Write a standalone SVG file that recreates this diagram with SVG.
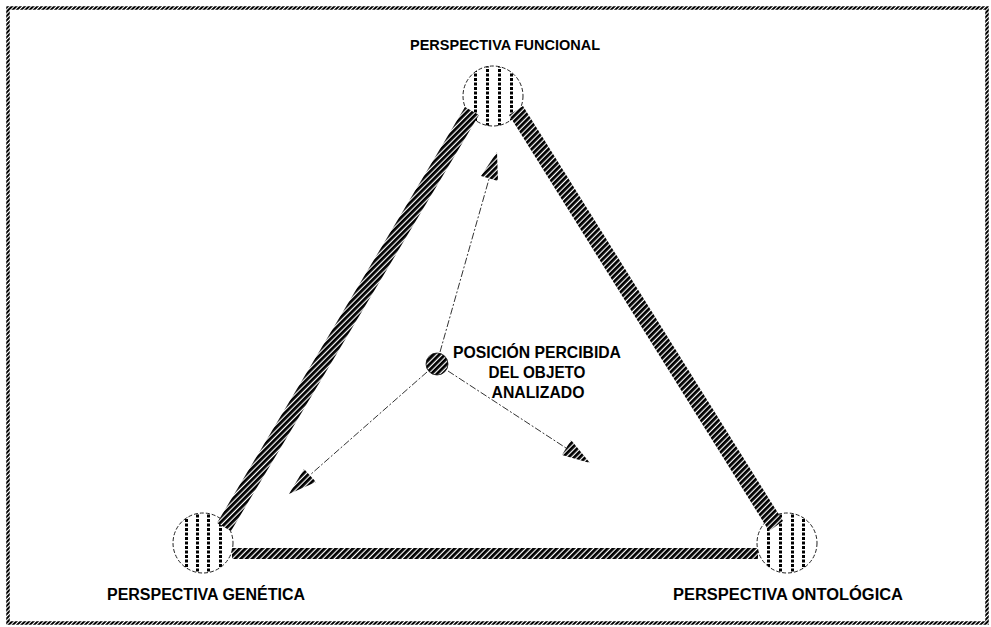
<svg xmlns="http://www.w3.org/2000/svg" width="991" height="627" viewBox="0 0 991 627">
<style>
.lbl{font-family:"Liberation Sans",Arial,sans-serif;font-weight:bold;fill:#000;}
.node-c{fill:#fff;stroke:#222;stroke-width:1;stroke-dasharray:4 2;}
.stripe{stroke:#000;stroke-width:3;stroke-dasharray:3 1.5;}
.band{fill:url(#hatch);}
.conn{stroke:#333;stroke-width:1;stroke-dasharray:7 2 2 2;fill:none;}
</style>
<defs>
<pattern id="hatch" width="4" height="4" patternUnits="userSpaceOnUse" patternTransform="rotate(45)">
<rect width="4" height="4" fill="#fff"/>
<rect width="2.8" height="4" fill="#000"/>
</pattern>
<pattern id="hatchB" width="3" height="3" patternUnits="userSpaceOnUse" patternTransform="rotate(45)">
<rect width="3" height="3" fill="#fff"/>
<rect width="2" height="3" fill="#000"/>
</pattern>
<clipPath id="cTop"><circle cx="493" cy="96" r="30"/></clipPath>
<clipPath id="cLeft"><circle cx="203" cy="543" r="30"/></clipPath>
<clipPath id="cRight"><circle cx="787" cy="543" r="30"/></clipPath>
</defs>
<rect width="991" height="627" fill="#fff"/>
<rect x="8" y="8" width="979" height="615" fill="none" stroke="url(#hatchB)" stroke-width="3.5"/>

<g id="node-funcional">
<circle class="node-c" cx="493" cy="96" r="30"/>
<g clip-path="url(#cTop)">
<line class="stripe" x1="475.5" y1="60" x2="475.5" y2="130"/>
<line class="stripe" x1="487.5" y1="60" x2="487.5" y2="130"/>
<line class="stripe" x1="499.5" y1="60" x2="499.5" y2="130"/>
<line class="stripe" x1="511.5" y1="60" x2="511.5" y2="130"/>
</g>
<text class="lbl" x="410" y="50" font-size="15.5" textLength="190" lengthAdjust="spacingAndGlyphs">PERSPECTIVA FUNCIONAL</text>
</g>

<g id="node-genetica">
<circle class="node-c" cx="203" cy="543" r="30"/>
<g clip-path="url(#cLeft)">
<line class="stripe" x1="186.5" y1="510" x2="186.5" y2="580"/>
<line class="stripe" x1="197.5" y1="510" x2="197.5" y2="580"/>
<line class="stripe" x1="208.5" y1="510" x2="208.5" y2="580"/>
<line class="stripe" x1="220.5" y1="510" x2="220.5" y2="580"/>
</g>
<text class="lbl" x="107" y="600" font-size="16" textLength="198" lengthAdjust="spacingAndGlyphs">PERSPECTIVA GENÉTICA</text>
</g>

<g id="node-ontologica">
<circle class="node-c" cx="787" cy="543" r="30"/>
<g clip-path="url(#cRight)">
<line class="stripe" x1="768.5" y1="510" x2="768.5" y2="580"/>
<line class="stripe" x1="780.5" y1="510" x2="780.5" y2="580"/>
<line class="stripe" x1="792.5" y1="510" x2="792.5" y2="580"/>
<line class="stripe" x1="803.5" y1="510" x2="803.5" y2="580"/>
</g>
<text class="lbl" x="673" y="600" font-size="16" textLength="230" lengthAdjust="spacingAndGlyphs">PERSPECTIVA ONTOLÓGICA</text>
</g>

<g id="connectors">
<polygon class="band" points="465,107 479,115 231,531 217,523"/>
<polygon class="band" points="509,115 523,106 783,521 769,531"/>
<polygon class="band" points="232,548 758,548 758,559 232,559"/>
<line class="conn" x1="440" y1="352" x2="489" y2="179"/>
<polygon class="band" points="497,152 498,181 481,176"/>
<line class="conn" x1="427" y1="372" x2="310" y2="475"/>
<polygon class="band" points="289,494 316,482 304,469"/>
<line class="conn" x1="448" y1="371" x2="566" y2="448"/>
<polygon class="band" points="590,463 562,455 571,440"/>
</g>

<g id="node-objeto">
<circle cx="437" cy="364" r="11" fill="url(#hatch)" stroke="#111" stroke-width="0.8"/>
<text class="lbl" x="537" y="358" font-size="17" text-anchor="middle" textLength="168" lengthAdjust="spacingAndGlyphs">POSICIÓN PERCIBIDA</text>
<text class="lbl" x="537" y="378" font-size="17" text-anchor="middle" textLength="97" lengthAdjust="spacingAndGlyphs">DEL OBJETO</text>
<text class="lbl" x="538" y="398" font-size="17" text-anchor="middle" textLength="93" lengthAdjust="spacingAndGlyphs">ANALIZADO</text>
</g>
</svg>
